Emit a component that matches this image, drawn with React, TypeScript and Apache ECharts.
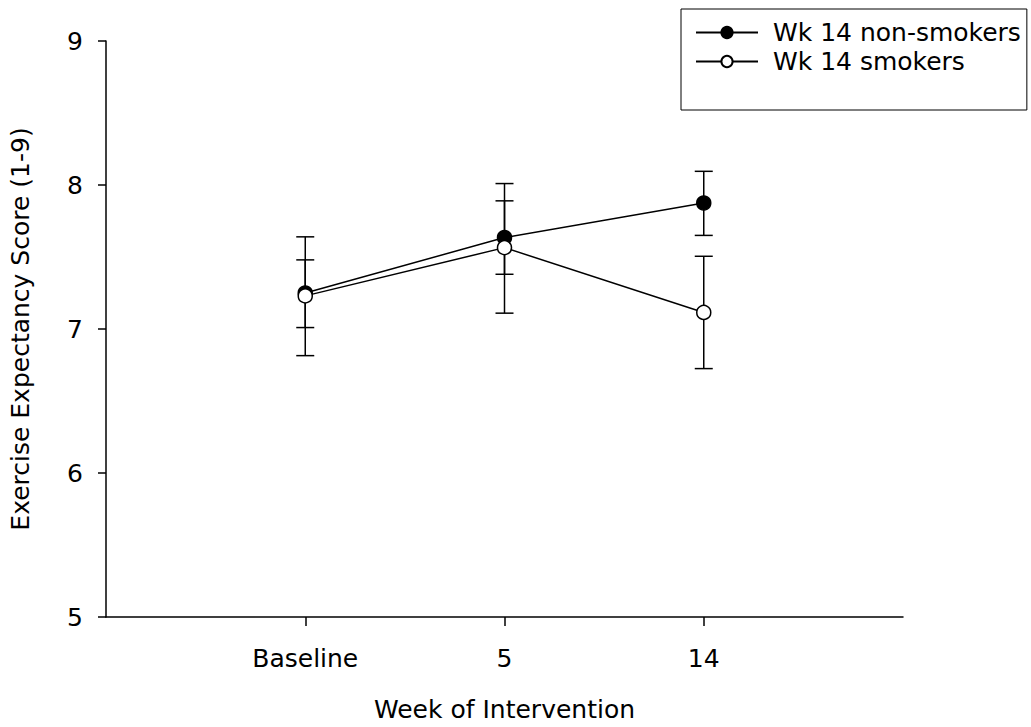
import React, { useEffect, useRef } from "react";
import * as echarts from "echarts";

const categories = ["", "Baseline", "5", "14", ""];
const xIdx = [1, 2, 3];
const nonSmokersMean = [7.25, 7.635, 7.875];
const nonSmokersLow = [7.01, 7.38, 7.65];
const nonSmokersHigh = [7.48, 7.89, 8.095];
const smokersMean = [7.23, 7.565, 7.115];
const smokersLow = [6.815, 7.11, 6.725];
const smokersHigh = [7.64, 8.01, 7.505];
const yTicks = [5, 6, 7, 8, 9];

const FONT = "DejaVu Sans";
const FS = 25;

function errorSeries(name: string, low: number[], high: number[]) {
  return {
    type: "custom",
    name: name + "-err",
    z: 1,
    silent: true,
    data: xIdx.map((x, i) => [x, low[i], high[i]]),
    renderItem: (params: any, api: any) => {
      const x = api.value(0);
      const lo = api.coord([x, api.value(1)]);
      const hi = api.coord([x, api.value(2)]);
      const hw = 9;
      const style = { stroke: "#000", lineWidth: 1.5 };
      return {
        type: "group",
        children: [
          { type: "line", shape: { x1: lo[0], y1: lo[1], x2: hi[0], y2: hi[1] }, style },
          { type: "line", shape: { x1: lo[0] - hw, y1: lo[1], x2: lo[0] + hw, y2: lo[1] }, style },
          { type: "line", shape: { x1: hi[0] - hw, y1: hi[1], x2: hi[0] + hw, y2: hi[1] }, style },
        ],
      };
    },
  };
}

export default function App() {
  const ref = useRef<HTMLDivElement>(null);
  useEffect(() => {
    const chart = echarts.init(ref.current!, null, { renderer: "svg" });
    chart.setOption({
      animation: false,
      backgroundColor: "#fff",
      textStyle: { fontFamily: FONT, color: "#000" },
      grid: { left: 97, right: 128, top: 41, bottom: 106, containLabel: false },
      legend: {
        orient: "vertical",
        left: 681,
        top: 9,
        data: ["Wk 14 non-smokers", "Wk 14 smokers"],
        itemWidth: 62,
        itemHeight: 14,
        itemGap: 4,
        padding: [11, 6, 36, 14],
        borderColor: "#000",
        borderWidth: 1,
        textStyle: { fontFamily: FONT, fontSize: FS, color: "#000", padding: [0, 0, 0, 10] },
      },
      xAxis: {
        type: "category",
        data: categories,
        boundaryGap: false,
        name: "Week of Intervention",
        nameLocation: "middle",
        nameGap: 80,
        nameTextStyle: { fontFamily: FONT, fontSize: FS, color: "#000" },
        axisLine: { lineStyle: { color: "#000", width: 1.5 } },
        axisTick: {
          length: 9,
          lineStyle: { color: "#000", width: 1.5 },
          interval: (i: number) => i >= 1 && i <= 3,
        },
        axisLabel: {
          fontFamily: FONT,
          fontSize: FS,
          color: "#000",
          margin: 29,
          interval: 0,
        },
        splitLine: { show: false },
      },
      yAxis: {
        type: "value",
        min: yTicks[0],
        max: yTicks[yTicks.length - 1],
        interval: 1,
        name: "Exercise Expectancy Score (1-9)",
        nameLocation: "middle",
        nameGap: 73,
        nameTextStyle: { fontFamily: FONT, fontSize: FS, color: "#000" },
        axisLine: { show: true, lineStyle: { color: "#000", width: 1.5 } },
        axisTick: { show: true, length: 8, lineStyle: { color: "#000", width: 1.5 } },
        axisLabel: { fontFamily: FONT, fontSize: FS, color: "#000", margin: 23 },
        splitLine: { show: false },
      },
      series: [
        errorSeries("Wk 14 non-smokers", nonSmokersLow, nonSmokersHigh),
        errorSeries("Wk 14 smokers", smokersLow, smokersHigh),
        {
          type: "line",
          name: "Wk 14 non-smokers",
          z: 3,
          data: xIdx.map((x, i) => [x, nonSmokersMean[i]]),
          symbol: "circle",
          symbolSize: 14,
          lineStyle: { color: "#000", width: 1.5 },
          itemStyle: { color: "#000", borderColor: "#000", borderWidth: 1.5 },
        },
        {
          type: "line",
          name: "Wk 14 smokers",
          z: 4,
          data: xIdx.map((x, i) => [x, smokersMean[i]]),
          symbol: "circle",
          symbolSize: 14,
          lineStyle: { color: "#000", width: 1.5 },
          itemStyle: { color: "#fff", borderColor: "#000", borderWidth: 1.5 },
        },
      ],
    });
    return () => chart.dispose();
  }, []);
  return (
    <div
      ref={ref}
      style={{ position: "fixed", left: 0, top: 0, width: 1031, height: 727 }}
    />
  );
}
